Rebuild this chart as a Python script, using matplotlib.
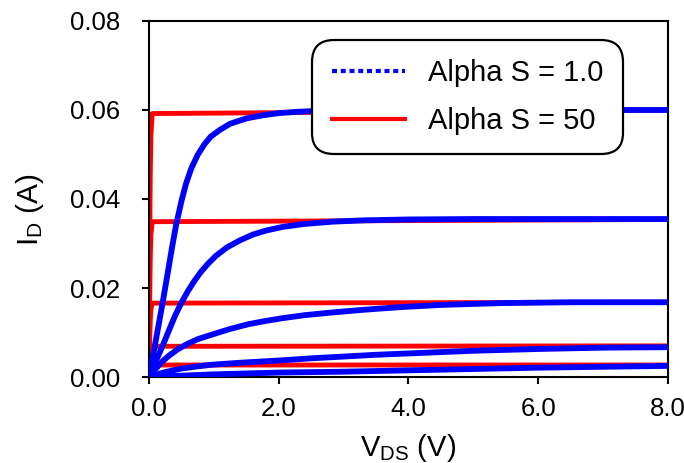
import matplotlib
matplotlib.use("Agg")
import matplotlib.pyplot as plt
from matplotlib.lines import Line2D

plt.rcParams['font.family'] = ['Liberation Sans', 'DejaVu Sans']
plt.rcParams['mathtext.fontset'] = 'custom'
plt.rcParams['mathtext.rm'] = 'Liberation Sans'
plt.rcParams['mathtext.it'] = 'Liberation Sans'

# ---- data ----
vds_b1 = [0, 0.05, 0.1, 0.15, 0.22, 0.3, 0.36, 0.42, 0.5, 0.57, 0.65, 0.75, 0.85,
          0.95, 1.1, 1.25, 1.5, 1.75, 2.0, 2.3, 2.6, 3.0, 3.5, 4.0, 8.0]
id_b1 = [0, 0.0038, 0.0078, 0.0118, 0.0175, 0.0243, 0.0295, 0.0343, 0.0395, 0.0434,
         0.0468, 0.0499, 0.0522, 0.0540, 0.0556, 0.0569, 0.0581, 0.0588, 0.0593,
         0.0596, 0.0598, 0.0599, 0.0600, 0.0600, 0.0600]

vds_b2 = [0, 0.1, 0.21, 0.3, 0.4, 0.5, 0.6, 0.7, 0.8, 0.9, 1.03, 1.2, 1.4, 1.6,
          1.8, 2.05, 2.4, 2.82, 3.3, 4.0, 5.0, 8.0]
id_b2 = [0, 0.0034, 0.0070, 0.0102, 0.0137, 0.0167, 0.0193, 0.0216, 0.0236, 0.0253,
         0.0272, 0.0291, 0.0307, 0.0320, 0.0329, 0.0337, 0.0344, 0.0349, 0.0352,
         0.0354, 0.0355, 0.0355]

vds_b3 = [0, 0.1, 0.2, 0.3, 0.45, 0.6, 0.75, 0.9, 1.03, 1.25, 1.54, 1.8, 2.05, 2.4,
          2.82, 3.3, 3.87, 4.5, 5.4, 6.5, 8.0]
id_b3 = [0, 0.0018, 0.0034, 0.0047, 0.0063, 0.0075, 0.0085, 0.0092, 0.0098, 0.0108,
         0.0119, 0.0126, 0.0132, 0.0139, 0.0145, 0.0151, 0.0157, 0.0162, 0.0166,
         0.0168, 0.0168]

vds_b4 = [0, 0.1, 0.25, 0.5, 0.75, 1.0, 1.4, 1.75, 2.1, 2.5, 3.0, 3.5, 4.0, 4.5,
          5.0, 6.0, 7.0, 8.0]
id_b4 = [0, 0.0005, 0.0011, 0.0019, 0.0024, 0.0028, 0.0032, 0.0035, 0.0038, 0.0042,
         0.0046, 0.0050, 0.0053, 0.0056, 0.0059, 0.0063, 0.0066, 0.0067]

vds_b5 = [0, 0.25, 0.5, 1.0, 1.5, 2.0, 3.0, 4.0, 5.0, 6.0, 7.0, 8.0]
id_b5 = [0, 0.0002, 0.0003, 0.0006, 0.0008, 0.0010, 0.0012, 0.0015, 0.0018, 0.0021,
         0.0023, 0.0025]

vds_red = [0, 0.01, 0.02, 0.03, 0.05, 8.0]
id_r1 = [0, 0.0276, 0.0456, 0.0543, 0.0592, 0.0600]
id_r2 = [0, 0.0163, 0.0269, 0.0320, 0.0349, 0.0354]
id_r3 = [0, 0.0077, 0.0128, 0.0152, 0.0166, 0.0168]
id_r4 = [0, 0.0032, 0.0053, 0.0063, 0.0069, 0.0070]
id_r5 = [0, 0.0012, 0.0021, 0.0024, 0.0027, 0.0027]

x_ticks = [0, 2, 4, 6, 8]
x_ticklabels = ["0.0", "2.0", "4.0", "6.0", "8.0"]
y_ticks = [0, 0.02, 0.04, 0.06, 0.08]
y_ticklabels = ["0.00", "0.02", "0.04", "0.06", "0.08"]

legend_labels = ["Alpha S = 1.0", "Alpha S = 50"]

# ---- figure ----
fig = plt.figure(figsize=(6.84, 4.63), dpi=100)
ax = fig.add_axes([0.2178, 0.1857, 0.7588, 0.769])

red = "#ff0000"
blue = "#0000ff"
for yr in [id_r1, id_r2, id_r3, id_r4, id_r5]:
    ax.plot(vds_red, yr, color=red, lw=3.5, solid_capstyle='butt',
            solid_joinstyle='round', zorder=2)
for vx, yb in [(vds_b1, id_b1), (vds_b2, id_b2), (vds_b3, id_b3),
               (vds_b4, id_b4), (vds_b5, id_b5)]:
    ax.plot(vx, yb, color=blue, lw=4.2, solid_capstyle='butt',
            solid_joinstyle='round', zorder=3)

ax.set_xlim(0, 8)
ax.set_ylim(0, 0.08)
ax.set_xticks(x_ticks)
ax.set_xticklabels(x_ticklabels)
ax.set_yticks(y_ticks)
ax.set_yticklabels(y_ticklabels)
ax.tick_params(direction='out', length=5, width=1.5, labelsize=18.5)
ax.tick_params(axis='x', pad=9.5)
ax.tick_params(axis='y', pad=16)
for s in ax.spines.values():
    s.set_linewidth(1.5)
    s.set_color('black')

ax.set_xlabel(r'$\mathregular{V_{DS}}$ (V)', fontsize=21)
ax.xaxis.set_label_coords(0.5, -0.155)
ax.set_ylabel(r'$\mathregular{I_{D}}$ (A)', fontsize=21.5)
ax.yaxis.set_label_coords(-0.198, 0.47)

handles = [Line2D([], [], color=blue, lw=3.0, dashes=(1.2, 0.9)),
           Line2D([], [], color=red, lw=3.0)]
leg = ax.legend(handles, legend_labels, loc='upper right',
                bbox_to_anchor=(0.913, 0.947), fontsize=21, frameon=True,
                fancybox=True, handlelength=2.5, handletextpad=0.8,
                labelspacing=0.67, borderpad=0.67, borderaxespad=0.0,
                framealpha=1.0, edgecolor='black')
leg.get_frame().set_linewidth(1.6)
leg.get_frame().set_boxstyle('round', pad=0.0, rounding_size=0.75)
leg.set_zorder(5)

fig.savefig("out.png", dpi=100)
